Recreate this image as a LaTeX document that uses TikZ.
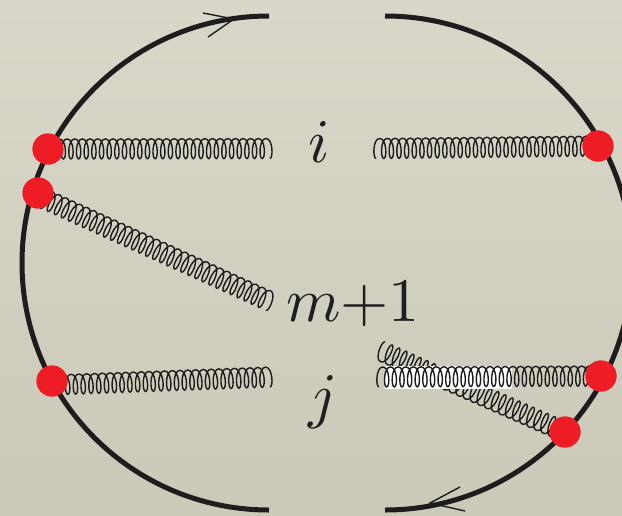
\documentclass[tikz,border=0pt]{standalone}
\usetikzlibrary{decorations}
\definecolor{arcc}{RGB}{30,28,28}
\definecolor{dotc}{RGB}{238,28,37}
% gluon: teardrop loops, pointed side on the right of the path
\pgfdeclaredecoration{gluonloops}{start}{
  \state{start}[width=0pt,next state=loop]{\pgfpathmoveto{\pgfpoint{0pt}{-\pgfdecorationsegmentamplitude}}}
  \state{loop}[width=\pgfdecorationsegmentlength]{
    \pgfpathcurveto
      {\pgfpoint{-0.45\pgfdecorationsegmentlength}{-\pgfdecorationsegmentamplitude}}
      {\pgfpoint{-0.42\pgfdecorationsegmentlength}{\pgfdecorationsegmentamplitude}}
      {\pgfpoint{0.5\pgfdecorationsegmentlength}{\pgfdecorationsegmentamplitude}}
    \pgfpathcurveto
      {\pgfpoint{1.42\pgfdecorationsegmentlength}{\pgfdecorationsegmentamplitude}}
      {\pgfpoint{1.45\pgfdecorationsegmentlength}{-\pgfdecorationsegmentamplitude}}
      {\pgfpoint{\pgfdecorationsegmentlength}{-\pgfdecorationsegmentamplitude}}
  }
  \state{final}{}
}
\tikzset{
  gluon/.style={draw=arcc,line width=1.4pt,decorate,decoration={gluonloops,segment length=#1,amplitude=10pt}},
  fermion/.style={draw=arcc,line width=5pt},
  tick/.style={draw=arcc,line width=1.4pt},
  vertexdot/.style={circle,fill=dotc,minimum size=31pt,inner sep=0pt},
  lab/.style={inner sep=0pt,text=black!88,scale=6.2}
}
\begin{document}
\begin{tikzpicture}[x=1pt,y=-1pt]
\useasboundingbox (0,0) rectangle (622,515);
\clip (0,0) rectangle (622,515);
\shade[top color={rgb,255:red,216;green,215;blue,201},bottom color={rgb,255:red,203;green,202;blue,185}] (0,0) rectangle (622,515);
% arcs
\coordinate (lt) at (269,16);
\coordinate (lb) at (269,510);
\coordinate (rt) at (385,16);
\coordinate (rb) at (385,510);
\draw[fermion] (lt) arc[start angle=-90,end angle=-270,radius=247];
\draw[fermion] (rt) arc[start angle=-90,end angle=90,radius=247];
% arrowheads
\coordinate (ta) at (234,19); \coordinate (ta1) at (203,13); \coordinate (ta2) at (208,37);
\coordinate (ba) at (430,503); \coordinate (ba1) at (460,487); \coordinate (ba2) at (465,511);
\draw[tick] (ta1) -- (ta) -- (ta2);
\draw[tick] (ba1) -- (ba) -- (ba2);
% vertices
\node[vertexdot] (a) at (48,149) {};
\node[vertexdot] (b) at (38,193) {};
\node[vertexdot] (c) at (52,381) {};
\node[vertexdot] (d) at (598,146) {};
\node[vertexdot] (e) at (601,376) {};
\node[vertexdot] (f) at (565,432) {};
% gluon free ends
\coordinate (ga) at (270,148.5);
\coordinate (gb) at (270,301.5);
\coordinate (gc) at (270,377);
\coordinate (gd) at (376,148.5);
\coordinate (ge) at (379,377);
\coordinate (gf) at (381,351);
\draw[gluon=7.65pt] (a.center) -- (ga);
\draw[gluon=7.72pt] ([yshift=-3pt]b.center) -- (gb);
\draw[gluon=7.78pt] ([yshift=-4pt]c.center) -- (gc);
\draw[gluon=7.65pt] (gd) -- (d.center);
\draw[gluon=7.73pt] (f.center) -- (gf);
\fill[white] (385,366) rectangle (512,389);
\draw[gluon=7.65pt] (ge) -- (e.center);
% redraw vertices on top
\node[vertexdot] at (a) {};
\node[vertexdot] at (b) {};
\node[vertexdot] at (c) {};
\node[vertexdot] at (d) {};
\node[vertexdot] at (e) {};
\node[vertexdot] at (f) {};
% labels
\node[lab] (li) at (319,142) {$i$};
\node[lab] (lm) at (353,304) {$m{+}1$};
\node[lab] (lj) at (323,402) {$j$};
\end{tikzpicture}
\end{document}
